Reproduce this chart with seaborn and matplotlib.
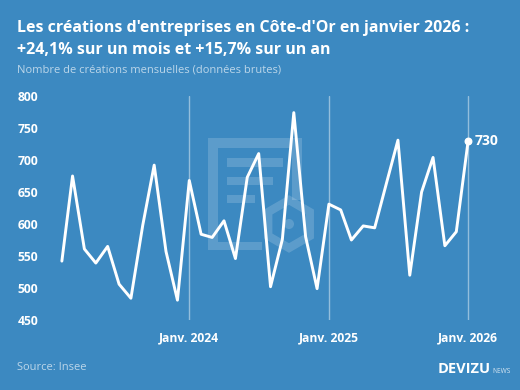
import pandas as pd
import numpy as np
import matplotlib
matplotlib.use("Agg")
import matplotlib.pyplot as plt
import matplotlib.patches as mpatches
from matplotlib.transforms import IdentityTransform
import seaborn as sns

# monthly company creations, Cote-d'Or (raw data), Feb 2023 -> Jan 2026
months = pd.date_range("2023-02-01", "2026-01-01", freq="MS")
creations = [542, 675, 561, 539, 565, 506, 484, 598, 692, 557, 481,
             668, 584, 579, 605, 546, 673, 710, 502, 576, 774, 580, 499,
             631, 622, 575, 597, 594, 664, 731, 520, 650, 704, 566, 588,
             730]
year_ticks = pd.to_datetime(["2024-01-01", "2025-01-01", "2026-01-01"])
year_labels = ["Janv. 2024", "Janv. 2025", "Janv. 2026"]
y_ticks = [450, 500, 550, 600, 650, 700, 750, 800]

df_plot = pd.DataFrame({"month": months, "creations": creations})

BG = "#3c89c1"
W, H = 520, 390

sns.set_style("white", {"axes.facecolor": BG, "figure.facecolor": BG})
plt.rcParams["font.family"] = ["Open Sans", "DejaVu Sans"]

fig = plt.figure(figsize=(5.2, 3.9), dpi=100)
fig.patch.set_facecolor(BG)
ax = fig.add_axes([55 / W, 1 - 320 / H, 420 / W, 224 / H])
ax.patch.set_alpha(0)

# faint logo in the background
wm = dict(facecolor=(1, 1, 1, 0.17), edgecolor="none", transform=IdentityTransform(), zorder=-1)
def box(x0, y0, x1, y1):
    fig.add_artist(mpatches.Rectangle((x0, H - y1), x1 - x0, y1 - y0, **wm))
box(208, 138, 302, 148)
box(208, 148, 218, 250)
box(218, 242, 262, 250)
box(292, 148, 302, 200)
box(227, 158, 283, 167)
box(227, 177, 273, 185)
box(227, 195, 255, 203)
fig.add_artist(mpatches.RegularPolygon((289, H - 224), 6, radius=24,
               facecolor="none", edgecolor=(1, 1, 1, 0.17), linewidth=6,
               transform=IdentityTransform(), zorder=-1))
fig.add_artist(mpatches.Circle((289, H - 224), 5, **wm))

for d in year_ticks:
    ax.axvline(d, color=(1, 1, 1, 0.45), linewidth=1, zorder=1)

sns.lineplot(data=df_plot, x="month", y="creations", ax=ax, color="white",
             linewidth=2.1, zorder=3)
ax.scatter([months[-1]], [creations[-1]], s=22, color="white", zorder=4, clip_on=False)
ax.annotate(str(creations[-1]), (months[-1], creations[-1]), xytext=(5, 0),
            textcoords="offset points", va="center", ha="left",
            color="white", fontsize=10, fontweight="bold")

ax.set_xlim(months[0] - pd.Timedelta(days=18), months[-1] + pd.Timedelta(days=18))
ax.set_ylim(450, 800)
ax.set_yticks(y_ticks)
ax.set_yticklabels([str(v) for v in y_ticks])
ax.set_xticks(year_ticks)
ax.set_xticklabels(year_labels)
ax.tick_params(axis="both", length=0, colors="white", labelsize=8.7)
ax.tick_params(axis="y", pad=12)
ax.tick_params(axis="x", pad=8)
for lab in ax.get_xticklabels() + ax.get_yticklabels():
    lab.set_fontweight("bold")
ax.set_xlabel("")
ax.set_ylabel("")
sns.despine(ax=ax, left=True, bottom=True)

fig.text(17 / W, 1 - 32 / H, "Les créations d'entreprises en Côte-d'Or en janvier 2026 :",
         color="white", fontsize=11.5, fontweight="bold", va="baseline")
fig.text(17 / W, 1 - 54 / H, "+24,1% sur un mois et +15,7% sur un an",
         color="white", fontsize=11.5, fontweight="bold", va="baseline")
fig.text(17 / W, 1 - 73 / H, "Nombre de créations mensuelles (données brutes)",
         color=(1, 1, 1, 0.65), fontsize=8, va="baseline")
fig.text(17 / W, 1 - 370.5 / H, "Source: Insee",
         color=(1, 1, 1, 0.65), fontsize=8, va="baseline")
brand = fig.text(438 / W, 1 - 372.7 / H, "DEVIZU", color="white", fontsize=10.5,
                 fontweight="bold", va="baseline")
r = fig.canvas.get_renderer()
bx = brand.get_window_extent(r).x1
fig.text(bx / W + 0.002, 1 - 372.7 / H, "NEWS", color=(1, 1, 1, 0.8), fontsize=4.8,
         va="baseline")

fig.savefig("out.png", dpi=100, facecolor=BG)
